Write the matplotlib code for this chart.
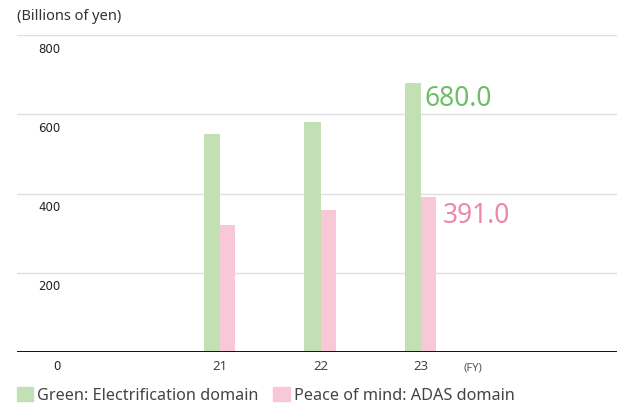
import matplotlib.pyplot as plt
import matplotlib.patches as mpatches
import numpy as np

# Sales by domain, billions of yen
years = ['21', '22', '23']
green_sales = [550, 580, 680.0]
adas_sales = [321, 358, 391.0]
y_ticks = [0, 200, 400, 600, 800]

GREEN = '#c2e0b4'
PINK = '#f8c8d7'
GREEN_TXT = '#6cbf66'
PINK_TXT = '#ef87a9'

plt.rcParams['font.family'] = ['Noto Sans', 'DejaVu Sans']

W, H = 617, 406
fig = plt.figure(figsize=(W / 100, H / 100), dpi=100)

# axes box in pixel terms: x 17..617, y 36 (800) .. 353 (0)
ax = fig.add_axes([17 / W, (H - 353) / H, 600 / W, (353 - 36) / H])

x = np.arange(len(years))
bw = 0.16
ax.bar(x - bw / 2, green_sales, width=bw, color=GREEN, zorder=3)
ax.bar(x + bw / 2 - 0.005, adas_sales, width=bw - 0.01, color=PINK, zorder=3)

ax.set_xlim(-2.02, 3.95)
ax.set_ylim(0, 800)

# horizontal grid + base line
for v in y_ticks[1:]:
    ax.axhline(v, color='#e0e0e0', lw=1.0, zorder=1)
ax.axhline(0, color='#111111', lw=1.4, zorder=4)

for s in ax.spines.values():
    s.set_visible(False)
ax.set_yticks([])
ax.set_xticks(x)
ax.set_xticklabels(years, fontsize=9.5, color='#444444')
ax.tick_params(axis='x', length=0, pad=5)

# y labels sit just under each gridline
ytr = ax.get_yaxis_transform()
for v in y_ticks:
    ax.text(0.072, v - 17, str(v), transform=ytr, ha='right', va='top',
            fontsize=8.5, color='#222222', family='DejaVu Sans')

ax.text(2.52, -38, '(FY)', fontsize=8, color='#555555', ha='center', va='center')

# value labels on the latest year
ax.text(x[-1] + 0.03, green_sales[-1] - 4, f'{green_sales[-1]:.1f}',
        color=GREEN_TXT, fontsize=19, ha='left', va='top')
ax.text(x[-1] + bw + 0.055, adas_sales[-1] - 10, f'{adas_sales[-1]:.1f}',
        color=PINK_TXT, fontsize=19, ha='left', va='top')

fig.text(17 / W, 1 - 16 / H, '(Billions of yen)', fontsize=10.5,
         color='#333333', ha='left', va='center')

handles = [mpatches.Patch(color=GREEN, label='Green: Electrification domain'),
           mpatches.Patch(color=PINK, label='Peace of mind: ADAS domain')]
fig.legend(handles=handles, loc='center left', bbox_to_anchor=(17 / W, 1 - 396 / H),
           ncol=2, frameon=False, fontsize=11.7, handlelength=1.0, handleheight=1.0,
           handletextpad=0.25, columnspacing=0.9, borderpad=0, borderaxespad=0,
           labelcolor='#444444')

fig.savefig('out.png', dpi=100)
